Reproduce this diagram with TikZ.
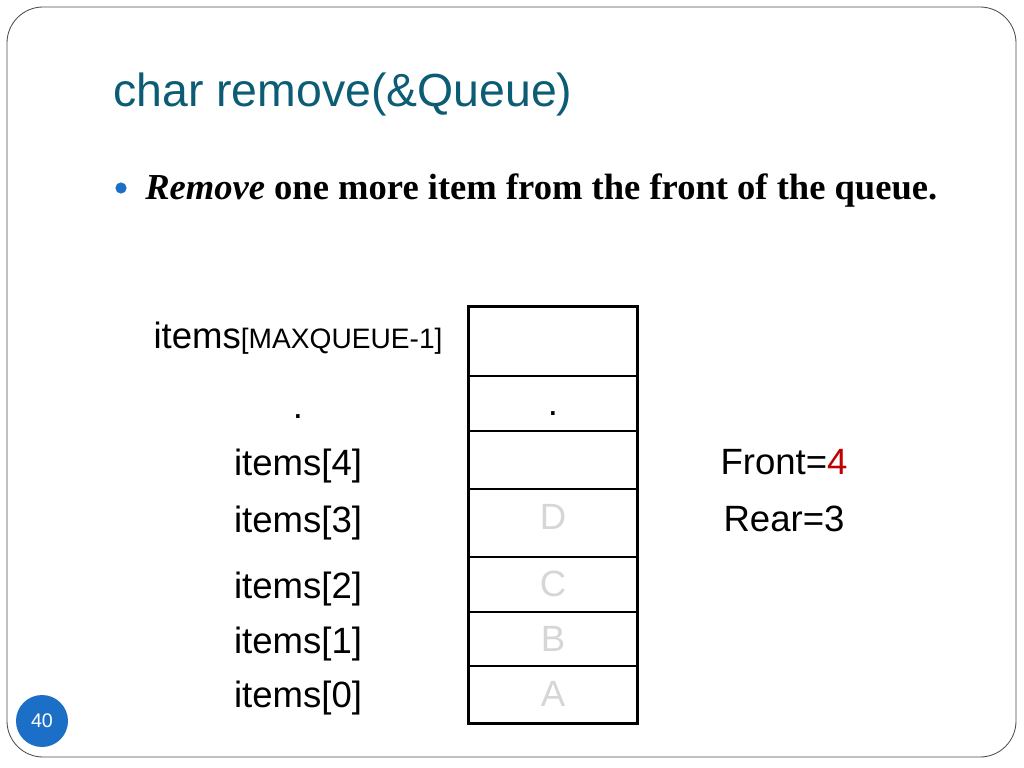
\documentclass[tikz,border=0pt]{standalone}
\usepackage{fontspec}
\setmainfont{Liberation Sans}
\newfontfamily\bodyfont{Liberation Serif}
\begin{document}
\begin{tikzpicture}[x=0.025cm,y=-0.025cm,
    cell/.style={draw,line width=0.8pt,minimum width=4.2cm,inner sep=0pt,
      text height=0.62cm,text depth=0pt,font=\fontsize{26}{28}\selectfont},
    lbl/.style={anchor=base,inner sep=0pt,font=\fontsize{26}{28}\selectfont}]
        \definecolor{titleteal}{HTML}{0B5C74}
        \definecolor{slideblue}{HTML}{1C6FC6}
        \definecolor{ghost}{HTML}{D6D6D6}
        \definecolor{frontred}{HTML}{C00000}

        \useasboundingbox (0,0) rectangle (1024,768);
        \draw[line width=0.6pt, draw=black!70, rounded corners=0.9cm] (7,7) rectangle (1016,757);

        % title and bullet
        \node[anchor=west, inner sep=0pt, text=titleteal, font=\fontsize{33}{36}\selectfont] (title) at (113,94) {char remove(\&Queue)};
        \node[circle, fill=slideblue, inner sep=0pt, minimum size=0.28cm] (bullet) at (121,188) {};
        \node[anchor=base west, inner sep=0pt, font=\bodyfont\bfseries\fontsize{26}{29}\selectfont] (remove) at (145,199) {\textit{Remove} one more item from the front of the queue.};

        % the array, bottom cell first
        \foreach \n/\y/\h/\t in {0/694.5/1.425/\textcolor{ghost}{A}, 1/639/1.35/\textcolor{ghost}{B},
            2/584.5/1.375/\textcolor{ghost}{C}, 3/523/1.7/\raisebox{0.14cm}{\textcolor{ghost}{D}}, 4/460/1.45/{},
            5/403.5/1.375/{.}, 6/341.5/1.725/{}}
          \node[cell, minimum height=\h cm] (c\n) at (553,\y) {\t};
        \draw[line width=2pt] (c6.north west) rectangle (c0.south east);

        % index labels
        \foreach \i/\y in {0/707, 1/653, 2/598, 3/532, 4/475}
          \node[lbl] (l\i) at (298,\y) {items[\i]};
        \node[lbl] (ldot) at (298,418) {.};
        \node[lbl] (lmax) at (298,348) {items{\fontsize{20}{22}\selectfont[MAXQUEUE-1]}};

        \node[lbl] (front) at (784,474) {Front=\textcolor{frontred}{4}};
        \node[lbl] (rear) at (784,531) {Rear=3};

        % page number
        \node[circle, fill=slideblue, minimum size=1.3cm, inner sep=0pt, text=white, font=\fontsize{14}{16}\selectfont] (page) at (42,721) {40};
    \end{tikzpicture}
\end{document}
